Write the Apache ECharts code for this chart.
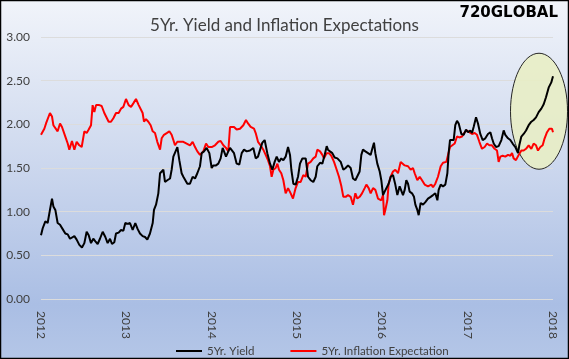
<!DOCTYPE html>
<html>
<head>
<meta charset="utf-8">
<script src="https://cdn.jsdelivr.net/npm/echarts@6/dist/echarts.min.js"></script>
<style>
html,body{margin:0;padding:0;background:#fff;}
#chart{width:569px;height:359px;}
</style>
</head>
<body>
<div id="chart"></div>
<script>
// ---- Data (decimal years, percent) ----
const yearTicks = [2012, 2013, 2014, 2015, 2016, 2017, 2018];

const yieldYears = [
2012.000,2012.020,2012.051,2012.078,2012.105,2012.129,2012.145,2012.168,2012.195,2012.223,
2012.254,2012.285,2012.313,2012.340,2012.363,2012.391,2012.418,2012.449,2012.480,2012.508,
2012.535,2012.559,2012.586,2012.613,2012.637,2012.664,2012.691,2012.723,2012.754,2012.781,
2012.809,2012.832,2012.859,2012.879,2012.910,2012.938,2012.965,2012.988,2013.016,2013.043,
2013.074,2013.105,2013.133,2013.160,
2013.191,2013.219,2013.246,2013.277,2013.309,2013.324,2013.348,2013.375,2013.395,2013.414,
2013.434,2013.453,2013.480,2013.512,2013.531,2013.551,2013.570,2013.598,2013.621,2013.648,
2013.668,2013.688,2013.715,2013.746,2013.777,2013.805,2013.832,2013.863,2013.883,2013.910,
2013.941,2013.973,2014.000,2014.020,2014.051,2014.078,2014.105,2014.129,2014.145,2014.168,
2014.195,2014.215,2014.234,2014.262,2014.293,2014.324,2014.352,2014.379,
2014.410,2014.449,2014.488,2014.516,2014.543,2014.574,2014.594,2014.621,2014.652,2014.684,
2014.711,2014.738,2014.762,2014.789,2014.816,2014.840,2014.867,2014.895,2014.918,2014.934,
2014.957,2014.984,2015.012,2015.035,2015.063,2015.082,2015.102,2015.129,2015.160,2015.191,
2015.219,2015.238,2015.270,2015.297,2015.324,2015.348,2015.363,2015.387,2015.414,2015.441,
2015.473,2015.512,2015.543,2015.570,2015.598,
2015.629,2015.656,2015.684,2015.707,2015.734,2015.754,2015.773,2015.801,2015.832,2015.863,
2015.879,2015.902,2015.918,2015.941,2015.969,2015.988,2016.008,2016.027,2016.047,2016.074,
2016.098,2016.125,2016.152,2016.176,2016.203,2016.223,2016.242,2016.262,2016.281,2016.301,
2016.320,2016.348,2016.371,2016.387,2016.410,2016.426,2016.449,2016.477,2016.504,2016.535,
2016.566,2016.594,2016.621,2016.645,2016.660,2016.684,2016.711,2016.738,2016.762,2016.777,
2016.793,2016.816,
2016.836,2016.855,2016.875,2016.895,2016.926,2016.953,2016.980,2017.004,2017.031,2017.051,
2017.070,2017.098,2017.121,2017.148,2017.176,2017.207,2017.238,2017.266,2017.285,2017.305,
2017.332,2017.363,2017.395,2017.422,2017.441,2017.473,2017.500,2017.527,2017.559,2017.590,
2017.605,2017.629,2017.656,2017.684,2017.715,2017.746,2017.773,2017.801,2017.832,2017.863,
2017.891,2017.918,2017.949,2017.980,2018.000
];
const yieldValues = [
0.73,0.81,0.89,0.87,1.02,1.15,1.06,1.02,0.87,0.85,
0.80,0.75,0.74,0.69,0.71,0.72,0.68,0.62,0.59,0.64,
0.77,0.73,0.64,0.69,0.66,0.63,0.69,0.77,0.71,0.64,
0.69,0.63,0.65,0.75,0.76,0.79,0.78,0.87,0.86,0.87,
0.79,0.87,0.80,0.75,
0.72,0.71,0.68,0.75,0.87,1.02,1.08,1.21,1.44,1.46,
1.48,1.34,1.36,1.38,1.48,1.63,1.61,1.74,1.59,1.44,
1.40,1.42,1.32,1.32,1.40,1.38,1.44,1.52,1.67,1.69,
1.73,1.67,1.50,1.53,1.53,1.55,1.61,1.73,1.75,1.63,
1.69,1.73,1.74,1.67,1.55,1.54,1.67,1.71,
1.69,1.70,1.73,1.61,1.63,1.73,1.79,1.82,1.67,1.55,
1.48,1.57,1.63,1.57,1.61,1.59,1.63,1.74,1.65,1.48,
1.32,1.31,1.40,1.55,1.61,1.59,1.61,1.40,1.36,1.34,
1.40,1.52,1.56,1.55,1.65,1.75,1.71,1.69,1.67,1.62,
1.61,1.57,1.48,1.50,1.53,
1.50,1.38,1.36,1.36,1.46,1.65,1.71,1.69,1.67,1.65,
1.71,1.79,1.67,1.55,1.46,1.36,1.19,1.23,1.25,1.32,
1.40,1.42,1.31,1.19,1.29,1.31,1.19,1.25,1.36,1.32,
1.23,1.21,1.17,1.08,1.02,0.96,1.10,1.08,1.11,1.15,
1.17,1.19,1.21,1.13,1.25,1.31,1.29,1.31,1.44,1.67,
1.82,1.84,
1.82,1.99,2.04,2.01,1.89,1.88,1.94,1.91,1.93,1.90,
1.97,2.08,2.01,1.89,1.82,1.84,1.89,1.91,1.84,1.78,
1.74,1.75,1.82,1.93,1.88,1.84,1.82,1.78,1.74,1.67,
1.76,1.86,1.89,1.93,1.99,2.03,2.05,2.08,2.14,2.18,
2.23,2.31,2.42,2.48,2.55
];

const inflationYears = [
2012.000,2012.039,2012.059,2012.078,2012.105,2012.129,2012.145,2012.168,2012.195,2012.223,
2012.246,2012.285,2012.313,2012.332,2012.363,2012.391,2012.418,2012.449,2012.477,2012.508,
2012.535,2012.559,2012.586,2012.605,2012.625,2012.645,2012.684,2012.711,2012.742,2012.762,
2012.793,2012.820,2012.848,2012.879,2012.910,2012.938,2012.965,2012.996,2013.027,2013.055,
2013.082,2013.113,2013.145,
2013.160,2013.191,2013.207,2013.230,2013.258,2013.285,2013.309,2013.336,2013.363,2013.395,
2013.414,2013.441,2013.473,2013.504,2013.531,2013.551,2013.570,2013.598,2013.629,2013.668,
2013.707,2013.746,2013.777,2013.805,2013.832,2013.863,2013.902,2013.934,2013.961,2014.000,
2014.039,2014.078,2014.105,2014.137,2014.168,2014.195,2014.215,2014.234,2014.262,2014.293,
2014.332,2014.371,2014.402,
2014.426,2014.457,2014.496,2014.516,2014.543,2014.574,2014.605,2014.633,2014.660,2014.684,
2014.703,2014.723,2014.750,2014.770,2014.789,2014.816,2014.840,2014.867,2014.895,2014.926,
2014.953,2014.984,2015.012,2015.043,2015.074,2015.102,2015.129,2015.160,2015.191,2015.219,
2015.238,2015.270,2015.297,2015.316,2015.348,2015.375,2015.402,2015.434,2015.465,2015.492,
2015.520,2015.543,2015.570,2015.598,
2015.629,2015.656,2015.684,2015.707,2015.734,2015.762,2015.793,2015.813,2015.840,2015.863,
2015.891,2015.918,2015.949,2015.969,2015.988,2016.008,2016.020,2016.035,2016.059,2016.074,
2016.098,2016.125,2016.152,2016.184,2016.215,2016.234,2016.262,2016.301,2016.332,2016.359,
2016.379,2016.410,2016.438,2016.465,2016.496,2016.535,2016.574,2016.594,2016.621,2016.652,
2016.684,2016.711,2016.750,2016.770,2016.793,2016.816,
2016.848,2016.875,2016.902,2016.934,2016.965,2016.992,2017.020,2017.051,2017.082,2017.109,
2017.137,2017.168,2017.199,2017.227,2017.254,2017.285,2017.316,2017.344,2017.363,2017.383,
2017.410,2017.441,2017.473,2017.500,2017.520,2017.539,2017.566,2017.598,2017.629,2017.656,
2017.684,2017.715,2017.746,2017.773,2017.801,2017.824,2017.852,2017.879,2017.902,2017.930,
2017.957,2017.988,2018.000
];
const inflationValues = [
1.88,1.95,2.01,1.99,2.13,2.09,1.99,2.01,1.92,2.01,
1.97,1.86,1.78,1.71,1.81,1.71,1.80,1.76,1.74,1.92,
1.90,1.94,1.99,2.22,2.14,2.22,2.22,2.21,2.13,2.13,
2.03,2.03,2.07,2.13,2.13,2.18,2.20,2.29,2.22,2.20,
2.24,2.29,2.22,
2.24,2.13,2.03,2.06,2.03,1.99,1.92,1.90,1.80,1.71,
1.84,1.88,1.90,1.92,1.88,1.82,1.76,1.80,1.80,1.80,
1.78,1.76,1.80,1.74,1.69,1.65,1.69,1.78,1.74,1.74,
1.76,1.80,1.81,1.76,1.73,1.69,1.97,1.95,1.97,1.94,
1.95,1.99,2.05,
2.01,1.97,1.95,1.90,1.80,1.76,1.71,1.65,1.59,1.52,
1.40,1.48,1.50,1.55,1.48,1.44,1.36,1.21,1.27,1.21,
1.15,1.27,1.34,1.34,1.42,1.40,1.55,1.57,1.61,1.63,
1.71,1.69,1.65,1.61,1.67,1.67,1.64,1.57,1.48,1.40,
1.29,1.17,1.17,1.19,
1.17,1.08,1.21,1.15,1.17,1.21,1.27,1.31,1.27,1.21,
1.27,1.25,1.15,1.17,1.13,1.19,0.96,1.02,1.13,1.32,
1.40,1.46,1.48,1.44,1.57,1.57,1.53,1.52,1.48,1.50,
1.44,1.36,1.40,1.36,1.31,1.29,1.31,1.28,1.32,1.40,
1.52,1.56,1.57,1.65,1.74,1.76,
1.78,1.86,1.85,1.86,1.91,1.93,1.91,1.89,1.90,1.88,
1.80,1.72,1.74,1.78,1.76,1.76,1.72,1.70,1.57,1.63,
1.64,1.63,1.65,1.64,1.67,1.61,1.59,1.65,1.70,1.70,
1.72,1.76,1.72,1.78,1.76,1.70,1.74,1.76,1.84,1.91,
1.95,1.95,1.91
];

const seriesNames = ['5Yr. Yield', '5Yr. Inflation Expectation'];
// highlight ellipse annotation (data units: centre year/value, radii)
const highlightCenter = [2017.836, 2.15];
const highlightRadius = [0.334, 0.664];

const zip = (xs, ys) => xs.map((x, i) => [x, ys[i]]);

const FONT = 'Lato';
const chart = echarts.init(document.getElementById('chart'), null, {renderer: 'canvas'});

const option = {
  animation: false,
  backgroundColor: {
    type: 'linear', x: 0, y: 0, x2: 0, y2: 1,
    colorStops: [
      {offset: 0, color: '#f1f4fa'},
      {offset: 0.45, color: '#cdd8ee'},
      {offset: 0.85, color: '#aabee4'},
      {offset: 1, color: '#b4c6e7'}
    ]
  },
  textStyle: {fontFamily: FONT},
  title: {
    text: '5Yr. Yield and Inflation Expectations',
    left: 'center',
    top: 12,
    textStyle: {fontSize: 17, fontWeight: 'normal', color: '#404040', fontFamily: FONT}
  },
  legend: {
    data: seriesNames,
    left: 171,
    top: 340,
    icon: 'rect',
    itemWidth: 26,
    itemHeight: 2,
    itemGap: 36,
    textStyle: {fontSize: 11.5, color: '#404040', fontFamily: FONT}
  },
  grid: {left: 41, right: 16, top: 37, bottom: 60},
  xAxis: {
    type: 'value',
    min: yearTicks[0],
    max: yearTicks[yearTicks.length - 1],
    interval: 1,
    axisLine: {show: false},
    axisTick: {show: false},
    splitLine: {show: false},
    axisLabel: {
      rotate: -90,
      fontSize: 12,
      color: '#404040',
      margin: 12,
      formatter: v => String(v)
    }
  },
  yAxis: {
    type: 'value',
    min: 0,
    max: 3,
    interval: 0.5,
    axisLine: {show: false},
    axisTick: {show: false},
    splitLine: {lineStyle: {color: '#dcdcdc', width: 1}},
    axisLabel: {fontSize: 12, color: '#404040', margin: 11, formatter: v => v.toFixed(2)}
  },
  series: [
    {
      name: seriesNames[0], type: 'line', data: zip(yieldYears, yieldValues),
      showSymbol: false, z: 4, clip: false,
      lineStyle: {color: '#000000', width: 2}, itemStyle: {color: '#000000'}
    },
    {
      name: seriesNames[1], type: 'line', data: zip(inflationYears, inflationValues),
      showSymbol: false, z: 3, clip: false,
      lineStyle: {color: '#ff0000', width: 2}, itemStyle: {color: '#ff0000'}
    }
  ]
};
chart.setOption(option);

const c = chart.convertToPixel({xAxisIndex: 0, yAxisIndex: 0}, highlightCenter);
const e = chart.convertToPixel({xAxisIndex: 0, yAxisIndex: 0},
  [highlightCenter[0] + highlightRadius[0], highlightCenter[1] + highlightRadius[1]]);

chart.setOption({
  graphic: [
    {
      type: 'ellipse', z: 1,
      shape: {cx: c[0], cy: c[1], rx: Math.abs(e[0] - c[0]), ry: Math.abs(e[1] - c[1])},
      style: {fill: 'rgba(232, 238, 196, 0.88)', stroke: '#262626', lineWidth: 1}
    },
    {
      type: 'text', z: 10, right: 11, top: 6,
      style: {
        text: '{a|720GL}{g|O}{a|BAL}',
        rich: {
          a: {fontSize: 15, fontWeight: 'bold', color: '#1f3a60', fontFamily: 'DejaVu Sans'},
          g: {fontSize: 15, fontWeight: 'bold', color: '#4f9d2e', fontFamily: 'DejaVu Sans'}
        }
      }
    },
    {
      type: 'rect', z: 20, silent: true,
      shape: {x: 0.5, y: 0.5, width: 568, height: 358},
      style: {fill: 'none', stroke: '#000', lineWidth: 1.5}
    }
  ]
});
</script>
</body>
</html>
